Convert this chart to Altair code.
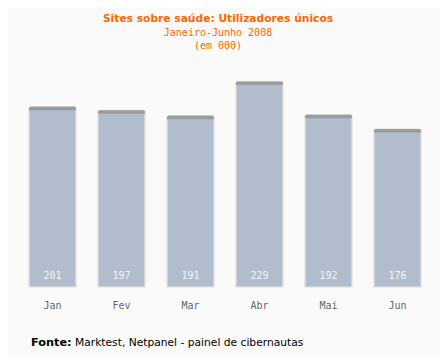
import altair as alt
import pandas as pd

months = ["Jan", "Fev", "Mar", "Abr", "Mai", "Jun"]
values = [201, 197, 191, 229, 192, 176]

df = pd.DataFrame({"mes": months, "valor": values})

x = alt.X("mes:N", sort=months, title=None,
          scale=alt.Scale(paddingInner=0.32, paddingOuter=0.16),
          axis=alt.Axis(labelAngle=0, domain=False, ticks=False, labelPadding=13,
                        labelFont="DejaVu Sans Mono", labelFontSize=10, labelColor="#666666"))
y = alt.Y("valor:Q", title=None, scale=alt.Scale(domain=[0, 253], nice=False),
          axis=None)

base = alt.Chart(df)

bars = base.mark_bar(color="#b1bdcd", stroke="#dadada", strokeWidth=1.2,
                     cornerRadiusTopLeft=2, cornerRadiusTopRight=2).encode(x=x, y=y)
cap = base.mark_bar(color="#9c9c9c", y2Offset=3.5, cornerRadiusTopLeft=2,
                    cornerRadiusTopRight=2).encode(x=x, y=y, y2="valor:Q")
labels = base.mark_text(color="#f4f4f4", font="DejaVu Sans Mono", fontSize=10,
                        baseline="middle", dy=-11).encode(
    x=x, y=alt.datum(0), text="valor:Q")

foot = pd.DataFrame({"a": ["Fonte:"], "b": ["Marktest, Netpanel - painel de cibernautas"]})
f1 = alt.Chart(foot).mark_text(font="DejaVu Sans", fontWeight="bold", fontSize=11.3,
                               align="left", baseline="middle", color="#000000").encode(
    x=alt.value(13), y=alt.value(283), text="a:N")
f2 = alt.Chart(foot).mark_text(font="DejaVu Sans", fontSize=10.7,
                               align="left", baseline="middle", color="#000000").encode(
    x=alt.value(57), y=alt.value(283), text="b:N")

chart = alt.layer(bars, cap, labels, f1, f2).properties(
    width=414, height=227,
    autosize=alt.AutoSizeParams(type="none"),
    padding={"left": 10, "top": 52, "right": 8, "bottom": 69},
    background="#fafafa",
    title=alt.TitleParams(
        text="Sites sobre saúde: Utilizadores únicos",
        subtitle=["Janeiro-Junho 2008", "(em 000)"],
        font="DejaVu Sans", fontSize=10.7, fontWeight="bold", color="#ff6600",
        subtitleFont="DejaVu Sans Mono", subtitleFontSize=10, subtitleColor="#ff6600",
        subtitleLineHeight=13, subtitlePadding=3,
        anchor="middle", offset=8, dx=-7),
).configure_view(stroke=None)

chart.save("out.html", embed_options={"renderer": "svg", "actions": False})
